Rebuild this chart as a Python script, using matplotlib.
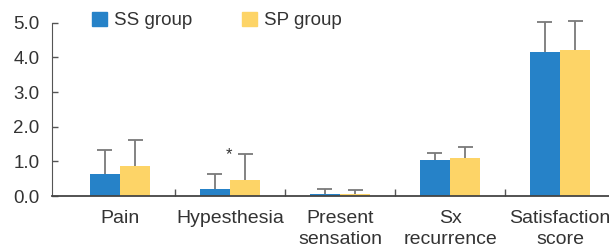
import numpy as np
import matplotlib.pyplot as plt
from matplotlib.patches import Patch

plt.rcParams['font.family'] = ['Liberation Sans', 'DejaVu Sans']

categories = ['Pain', 'Hypesthesia', 'Present\nsensation', 'Sx\nrecurrence', 'Satisfaction\nscore']
ss_mean = [0.64, 0.20, 0.06, 1.04, 4.16]
ss_err = [0.69, 0.43, 0.15, 0.21, 0.85]
sp_mean = [0.87, 0.46, 0.06, 1.10, 4.22]
sp_err = [0.74, 0.74, 0.10, 0.32, 0.83]
group_names = ['SS group', 'SP group']

blue = '#2682c8'
yellow = '#fdd467'
err_color = '#7a7a7a'
text_color = '#333333'


def upper_errbars(ax, xs, means, errs, cap=0.068):
    # one-sided error bars: only the upper whisker and cap
    tops = np.array(means) + np.array(errs)
    ax.vlines(xs, means, tops, color=err_color, lw=1.3, zorder=1, clip_on=False)
    ax.hlines(tops, xs - cap, xs + cap, color=err_color, lw=1.3, zorder=1, clip_on=False)


fig = plt.figure(figsize=(6.09, 2.47), dpi=100)
ax = fig.add_axes([52 / 609, 1 - 196 / 247, 1 - 52 / 609, (196 - 22.7) / 247])

x = np.arange(len(categories))
w = 0.275
ax.bar(x - w / 2, ss_mean, w, color=blue, zorder=2)
ax.bar(x + w / 2, sp_mean, w, color=yellow, zorder=2)
upper_errbars(ax, x - w / 2, ss_mean, ss_err)
upper_errbars(ax, x + w / 2, sp_mean, sp_err)

# significance marker
ax.text(1 - 0.01, 1.18, '*', ha='center', va='center', fontsize=12, color=text_color)

ax.set_xlim(-0.618, 4.445)
ax.set_ylim(0, 5)
ax.set_yticks([0, 1, 2, 3, 4, 5])
ax.set_yticklabels([f'{v:.1f}' for v in range(6)])
ax.set_xticks(x)
ax.set_xticklabels(categories, linespacing=1.35)
ax.set_xticks(x[:-1] + 0.5, minor=True)

ax.tick_params(axis='y', direction='in', length=4.5, width=1, color='#555555',
               labelsize=13.5, labelcolor=text_color, pad=9)
ax.tick_params(axis='x', which='major', length=0, labelsize=14, labelcolor=text_color, pad=10)
ax.tick_params(axis='x', which='minor', direction='in', length=5, width=1, color='#555555')

for s in ['top', 'right']:
    ax.spines[s].set_visible(False)
ax.spines['left'].set_color('#555555')
ax.spines['bottom'].set_color('#444444')
ax.spines['bottom'].set_linewidth(1.3)

handles = [Patch(color=blue), Patch(color=yellow)]
fig.legend(handles, group_names, loc='center left', bbox_to_anchor=(92 / 609, 1 - 20.5 / 247),
           ncol=2, frameon=False, fontsize=13.5, handlelength=0.8, handleheight=0.85,
           handletextpad=0.4, columnspacing=2.6, labelcolor=text_color, borderpad=0,
           borderaxespad=0)

fig.savefig('out.png', dpi=100)
